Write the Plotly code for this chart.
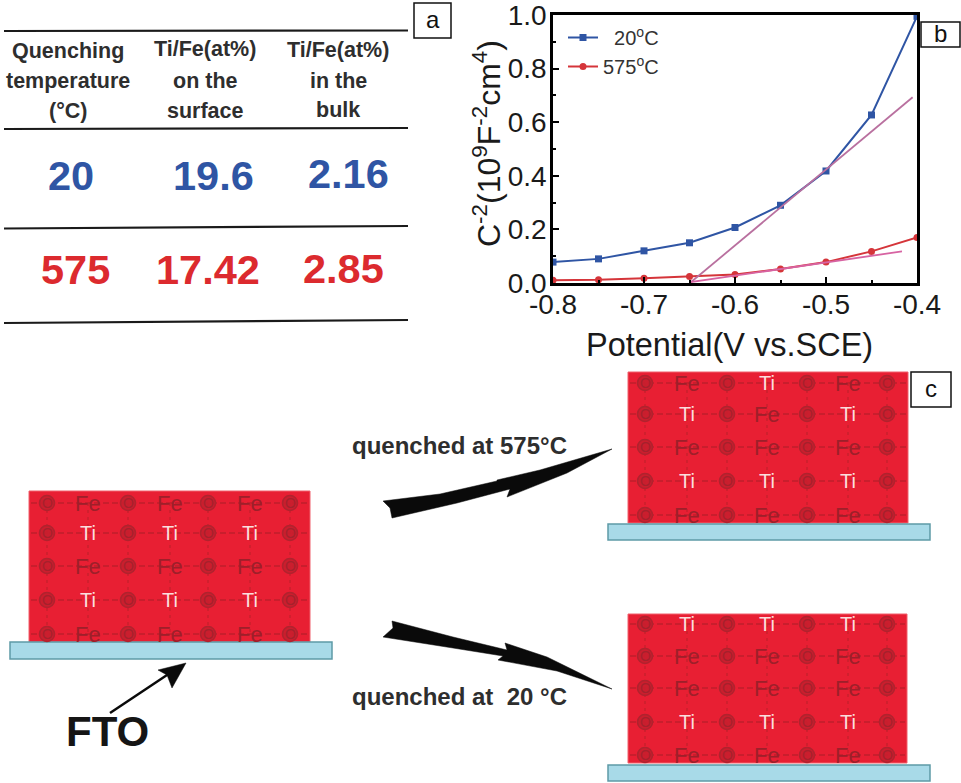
import plotly.graph_objects as go

# ==========================
# DATA
# ==========================

potential = [-0.8, -0.75, -0.7, -0.65, -0.6, -0.55, -0.5, -0.45, -0.4]
c2_20 = [0.078, 0.09, 0.12, 0.15, 0.207, 0.29, 0.418, 0.627, 0.995]
c2_575 = [0.01, 0.012, 0.018, 0.024, 0.032, 0.052, 0.078, 0.118, 0.17]

fit_20_x = [-0.6495, -0.4048]
fit_20_y = [0.0, 0.693]
fit_575_x = [-0.6495, -0.4165]
fit_575_y = [0.003, 0.118]

x_ticks = [-0.8, -0.7, -0.6, -0.5, -0.4]
x_tick_labels = ["-0.8", "-0.7", "-0.6", "-0.5", "-0.4"]

table_headers = [
    ["Quenching", "temperature", "(°C)"],
    ["Ti/Fe(at%)", "on the", "surface"],
    ["Ti/Fe(at%)", "in the", "bulk"],
]
row_20 = ["20", "19.6", "2.16"]
row_575 = ["575", "17.42", "2.85"]

FE_ROW = ["O", "Fe", "O", "Fe", "O", "Fe", "O"]
TI_ROW = ["O", "Ti", "O", "Ti", "O", "Ti", "O"]
start_rows = [FE_ROW, TI_ROW, FE_ROW, TI_ROW, FE_ROW]
rows_575 = [
    ["O", "Fe", "O", "Ti", "O", "Fe", "O"],
    ["O", "Ti", "O", "Fe", "O", "Ti", "O"],
    FE_ROW,
    TI_ROW,
    FE_ROW,
]
rows_20 = [TI_ROW, FE_ROW, FE_ROW, TI_ROW, FE_ROW]

FONT = "Liberation Sans"
BLUE = "#2F55A4"
RED = "#DC2A2E"
GREY = "#2E2E2E"

fig = go.Figure()

# ==========================
# PANEL B - MOTT SCHOTTKY
# ==========================

fig.add_trace(go.Scatter(
    x=potential, y=c2_20, name="  20<sup>o</sup>C",
    mode="lines+markers",
    line=dict(color=BLUE, width=2),
    marker=dict(symbol="square", size=7, color=BLUE),
))
fig.add_trace(go.Scatter(
    x=potential, y=c2_575, name="575<sup>o</sup>C",
    mode="lines+markers",
    line=dict(color="#D5353A", width=2),
    marker=dict(symbol="circle", size=7, color="#D5353A"),
))
fig.add_trace(go.Scatter(
    x=fit_20_x, y=fit_20_y, mode="lines", showlegend=False,
    line=dict(color="#B9709F", width=1.8),
))
fig.add_trace(go.Scatter(
    x=fit_575_x, y=fit_575_y, mode="lines", showlegend=False,
    line=dict(color="#D763A2", width=1.8),
))

# ==========================
# PAGE OVERLAY (x2/y2 = pixels)
# ==========================

shapes = []
notes = []


def add_text(text, x, y, size, color=GREY, bold=False, angle=0):
    notes.append(dict(
        text=f"<b>{text}</b>" if bold else text,
        x=x, y=y, xref="x2", yref="y2", showarrow=False,
        xanchor="center", yanchor="middle", textangle=angle,
        font=dict(family=FONT, size=size, color=color),
    ))


def add_line(x0, y0, x1, y1, width=2, color="#1A1A1A"):
    shapes.append(dict(
        type="line", xref="x2", yref="y2", x0=x0, y0=y0, x1=x1, y1=y1,
        line=dict(color=color, width=width),
    ))


def add_box(x0, y0, x1, y1, fill, line_color, width=1):
    shapes.append(dict(
        type="rect", xref="x2", yref="y2", x0=x0, y0=y0, x1=x1, y1=y1,
        fillcolor=fill, line=dict(color=line_color, width=width), layer="below",
    ))


def add_path(points, fill):
    d = "M" + " L".join(f"{x:.1f},{y:.1f}" for x, y in points) + " Z"
    shapes.append(dict(
        type="path", xref="x2", yref="y2", path=d,
        fillcolor=fill, line=dict(color=fill, width=0.5),
    ))


def add_lattice(x0, x1, y0, y1, slab, cols, ys, rows):
    add_box(x0, y0, x1, y1, "#E81F33", "#F0606C")
    add_box(slab[0], slab[1], slab[2], slab[3], "#A8DAE8", "#5E9AA6", 1.5)

    bx, by = [], []
    for y in ys:
        bx += [x0 + 2, x1 - 2, None]
        by += [y, y, None]
    fig.add_trace(go.Scatter(
        x=bx, y=by, xaxis="x2", yaxis="y2", mode="lines", showlegend=False,
        line=dict(color="#BE1F2D", width=1.6, dash="6px,3px"),
    ))
    vx, vy = [], []
    for x in cols:
        vx += [x, x, None]
        vy += [ys[0], ys[-1], None]
    fig.add_trace(go.Scatter(
        x=vx, y=vy, xaxis="x2", yaxis="y2", mode="lines", showlegend=False,
        line=dict(color="#C9202E", width=1.5, dash="3px,4px"),
    ))

    # O atoms get a ring, Fe and Ti are only letters
    ox, oy = [], []
    for row, y in zip(rows, ys):
        for atom, x in zip(row, cols):
            if atom == "O":
                ox.append(x)
                oy.append(y)
                add_text("O", x, y, 14, "#A5212C")
            elif atom == "Fe":
                add_text("Fe", x, y, 22, "#9E1F2A")
            else:
                add_text("Ti", x, y, 20, "#FBDEDE")
    fig.add_trace(go.Scatter(
        x=ox, y=oy, xaxis="x2", yaxis="y2", mode="markers", showlegend=False,
        marker=dict(symbol="circle", size=15, color="rgba(200,30,45,0.9)",
                    line=dict(color="#B0232E", width=1.6)),
    ))


# --- table (panel a)

for y0, y1 in [(31, 30.5), (129, 128), (228.5, 226), (323, 320)]:
    add_line(4, y0, 408, y1, 2.2)

head_x = [68, 205, 338]
head_y = [[51, 81, 111], [49, 81, 111], [50, 81, 110]]
for col, x, ys in zip(table_headers, head_x, head_y):
    for line, y in zip(col, ys):
        add_text(line, x, y, 21.5, GREY, bold=True)

for val, x, y in zip(row_20, [71, 213, 348], [175, 175, 173]):
    add_text(val, x, y, 41.5, BLUE, bold=True)
for val, x, y in zip(row_575, [75, 208, 343], [269, 269, 268]):
    add_text(val, x, y, 41.5, RED, bold=True)

# --- panel labels

for label, x0, y0, x1, y1 in [
    ("a", 414, 3, 451, 38),
    ("b", 921, 22, 960, 47),
    ("c", 911, 372, 951, 407),
]:
    add_box(x0, y0, x1, y1, "white", "#111111", 1.5)
    add_text(label, (x0 + x1) / 2, (y0 + y1) / 2 - 1, 24, "#111111")

# --- axis titles of panel b

add_text("Potential(V vs.SCE)", 729, 345, 32.5, "#1A1A1A")
add_text("C<sup>-2</sup>(10<sup>9</sup>F<sup>-2</sup>cm<sup>4</sup>)",
         487, 144, 32, "#1A1A1A", angle=-90)

# --- lattices (panel c)

add_lattice(29, 310, 491, 642, (10, 642, 332, 659),
            [47, 88, 128, 170, 208, 250, 290], [503, 533, 566, 600, 634], start_rows)
add_lattice(628, 908, 372, 523, (608, 524, 930, 540),
            [645, 687, 727, 767, 807, 848, 887], [383, 414, 447, 481, 515], rows_575)
add_lattice(628, 907, 614, 763, (608, 765, 930, 781),
            [645, 687, 727, 767, 807, 848, 887], [624, 656, 688, 722, 755], rows_20)

# --- arrows and captions

add_path([(383, 501), (440, 494), (497, 481), (497, 480), (540, 470), (612, 449),
          (567, 473), (507, 497), (510, 489), (457, 503), (392, 518), (390, 508)], "#0A0A0A")
add_path([(383, 637), (393, 628), (392, 621), (453, 637), (507, 650), (505, 643),
          (547, 657), (612, 689), (557, 671), (498, 660), (503, 656), (453, 648)], "#0A0A0A")
add_line(110, 713, 176, 669, 2.5, "#0A0A0A")
add_path([(186, 663), (158, 670), (167, 675), (172, 688)], "#0A0A0A")

add_text("quenched at 575°C", 459, 445, 24, GREY, bold=True)
add_text("quenched at  20 °C", 459, 696, 24, GREY, bold=True)
add_text("FTO", 107, 731, 42, "#151515", bold=True)

# ==========================
# FINAL DESIGN
# ==========================

axis_font = dict(family=FONT, size=28, color="#1A1A1A")

fig.update_layout(
    width=961,
    height=783,
    margin=dict(l=0, r=0, t=0, b=0, autoexpand=False),
    paper_bgcolor="white",
    plot_bgcolor="rgba(0,0,0,0)",
    font=dict(family=FONT),
    xaxis=dict(
        domain=[553 / 961, 917 / 961], range=[-0.8, -0.4],
        tickvals=x_ticks, ticktext=x_tick_labels,
        tickfont=axis_font, anchor="y", ticklabelstandoff=-5,
        ticks="inside", ticklen=6, tickwidth=2, tickcolor="black",
        minor=dict(dtick=0.05, ticks="inside", ticklen=3, tickwidth=2, tickcolor="black"),
        showgrid=False, zeroline=False, showline=True, mirror=True,
        linecolor="black", linewidth=2.5,
    ),
    yaxis=dict(
        domain=[1 - 283 / 783, 1 - 15 / 783], range=[0, 1], dtick=0.2,
        tickformat=".1f", tickfont=axis_font, anchor="x", ticklabelstandoff=-2,
        ticklabeloverflow="allow",
        ticks="inside", ticklen=6, tickwidth=2, tickcolor="black",
        minor=dict(dtick=0.1, ticks="inside", ticklen=3, tickwidth=2, tickcolor="black"),
        showgrid=False, zeroline=False, showline=True, mirror=True,
        linecolor="black", linewidth=2.5,
    ),
    xaxis2=dict(domain=[0, 1], range=[0, 961], visible=False, anchor="y2"),
    yaxis2=dict(domain=[0, 1], range=[783, 0], visible=False, anchor="x2"),
    legend=dict(
        x=563 / 961, y=1 - 18 / 783, xanchor="left", yanchor="top",
        bgcolor="rgba(0,0,0,0)", itemwidth=30,
        font=dict(family=FONT, size=20, color="#333333"),
    ),
    shapes=shapes,
    annotations=notes,
)

fig.write_html("out.html", post_script="document.body.style.margin='0';",
               config={"displayModeBar": False})
